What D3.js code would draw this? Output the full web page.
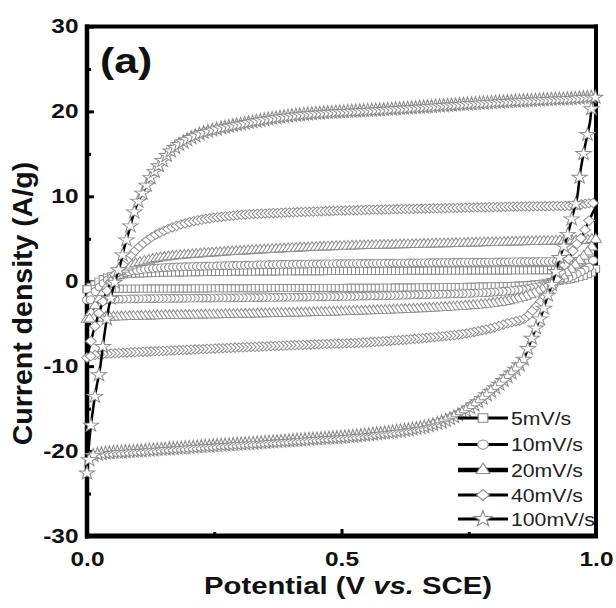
<!DOCTYPE html>
<html>
<head>
<meta charset="utf-8">
<script src="https://cdn.jsdelivr.net/npm/d3@7"></script>
<style>
  body { margin: 0; background: #fff; }
  svg { display: block; }
  text { font-family: Arial, "Liberation Sans", sans-serif; }
</style>
</head>
<body>
<svg id="chart" width="616" height="608"></svg>
<script>
// scan rates shown in the legend
const scanRates = ["5mV/s", "10mV/s", "20mV/s", "40mV/s", "100mV/s"];

// [potential (V), current density (A/g)] : forward sweep 0 -> 1 V, then reverse 1 -> 0 V
const cv5 = [
  [0, -0.9], [0.015, -0.4], [0.03, 0.2], [0.05, 0.6], [0.08, 0.85], [0.12, 0.95], [0.2, 1.05],
  [0.35, 1.15], [0.5, 1.2], [0.7, 1.25], [0.9, 1.3], [0.98, 1.35], [1.0, 1.4],
  [0.99, 1.0], [0.97, 0.55], [0.945, 0.2], [0.92, 0], [0.89, -0.3], [0.85, -0.5], [0.75, -0.65],
  [0.6, -0.75], [0.4, -0.8], [0.2, -0.85], [0.06, -0.88], [0.02, -0.9], [0, -0.95]
];
const cv10 = [
  [0, -2.2], [0.015, -1.3], [0.03, -0.4], [0.045, 0.3], [0.07, 0.9], [0.1, 1.3], [0.15, 1.6],
  [0.25, 1.8], [0.4, 2.0], [0.55, 2.1], [0.7, 2.2], [0.85, 2.3], [0.97, 2.35], [1.0, 2.4],
  [0.99, 1.8], [0.97, 1.1], [0.945, 0.4], [0.92, 0], [0.89, -0.6], [0.85, -1.0], [0.78, -1.35],
  [0.65, -1.6], [0.5, -1.8], [0.3, -1.95], [0.12, -2.05], [0.03, -2.15], [0, -2.2]
];
const cv20 = [
  [0, -4.5], [0.015, -3.0], [0.03, -1.5], [0.045, -0.2], [0.06, 0.9], [0.08, 1.7], [0.11, 2.3],
  [0.15, 2.8], [0.22, 3.2], [0.35, 3.7], [0.5, 4.1], [0.7, 4.4], [0.9, 4.7], [0.98, 4.8], [1.0, 4.9],
  [0.99, 3.9], [0.97, 2.6], [0.945, 1.1], [0.92, 0], [0.89, -1.1], [0.85, -2.0], [0.8, -2.6],
  [0.7, -3.1], [0.5, -3.6], [0.3, -3.9], [0.12, -4.1], [0.03, -4.3], [0, -4.5]
];
const cv40 = [
  [0, -9.0], [0.008, -7.0], [0.018, -4.8], [0.03, -2.6], [0.045, -0.3], [0.06, 1.2], [0.08, 2.6],
  [0.1, 3.9], [0.13, 5.3], [0.17, 6.4], [0.22, 7.2], [0.3, 7.8], [0.4, 8.1], [0.55, 8.4],
  [0.7, 8.6], [0.85, 8.8], [0.95, 8.9], [1.0, 9.1],
  [0.993, 8.0], [0.982, 6.6], [0.972, 5.2], [0.958, 4.0], [0.948, 2.8], [0.935, 1.6], [0.925, 0.5],
  [0.909, -1.1], [0.894, -2.2], [0.876, -3.4], [0.86, -4.4], [0.83, -4.9], [0.79, -5.6],
  [0.74, -6.2], [0.68, -6.6], [0.55, -7.2], [0.42, -7.5], [0.3, -7.8], [0.15, -8.2],
  [0.05, -8.5], [0.015, -8.7], [0, -9.0]
];
const cv100 = [
  [0, -22.6], [0.006, -17.9], [0.016, -13.4], [0.026, -10.1], [0.033, -6.8], [0.043, -3.0],
  [0.055, 0], [0.065, 1.9], [0.073, 3.9], [0.083, 6.0], [0.09, 7.6], [0.1, 9.3], [0.112, 10.7],
  [0.122, 11.9], [0.141, 13.6], [0.17, 15.6], [0.22, 17.3], [0.32, 18.7], [0.42, 19.6],
  [0.61, 20.3], [0.81, 21.1], [0.95, 21.5], [1.0, 21.6],
  [0.994, 21.2], [0.988, 18.7], [0.978, 15.8], [0.969, 12.8], [0.963, 9.9], [0.953, 7.5],
  [0.943, 5.2], [0.929, 2.8], [0.916, 0.1], [0.904, -1.9], [0.894, -3.8], [0.88, -5.8],
  [0.867, -7.8], [0.857, -9.3], [0.827, -11.2], [0.797, -12.8], [0.745, -15.2], [0.68, -16.9],
  [0.55, -18.1], [0.42, -18.7], [0.22, -19.5], [0.1, -20.0], [0.03, -20.3], [0.01, -20.6], [0, -21.5]
];

const seriesData = [cv5, cv10, cv20, cv40, cv100];

const yTicks = [-30, -20, -10, 0, 10, 20, 30];
const yMinorTicks = [-25, -15, -5, 5, 15, 25];
const xTicks = [0, 0.5, 1.0];
const xMinorTicks = [0.25, 0.75];

const svg = d3.select("#chart");

const x = d3.scaleLinear().domain([0, 1]).range([87, 596]);
const y = d3.scaleLinear().domain([-30, 30]).range([536, 26.5]);

// the source picture is stretched sideways, so text and symbols are too
const stretch = "scale(1.22,1)";

const symbolTypes = [d3.symbolSquare, d3.symbolCircle, d3.symbolTriangle, d3.symbolSquare, d3.symbolStar];
const symbolSizes = [50, 48, 44, 44, 56];
const symbolRotate = [0, 0, 0, 45, 0];

// frame
const frame = svg.append("g");
frame.append("line").attr("x1", 87).attr("x2", 87).attr("y1", 24.5).attr("y2", 538.5)
  .attr("stroke", "#000").attr("stroke-width", 4.5);
frame.append("line").attr("x1", 85).attr("x2", 598).attr("y1", 536).attr("y2", 536)
  .attr("stroke", "#000").attr("stroke-width", 5);
frame.append("line").attr("x1", 85).attr("x2", 598).attr("y1", 26.5).attr("y2", 26.5)
  .attr("stroke", "#000").attr("stroke-width", 4);
frame.append("line").attr("x1", 596).attr("x2", 596).attr("y1", 24.5).attr("y2", 538)
  .attr("stroke", "#000").attr("stroke-width", 4);

// axes (ticks point inward)
const yAxis = svg.append("g").attr("transform", "translate(87,0)")
  .call(d3.axisLeft(y).tickValues(yTicks).tickSize(-7).tickPadding(7).tickFormat((d) => String(d)));
const yAxisMinor = svg.append("g").attr("transform", "translate(87,0)")
  .call(d3.axisLeft(y).tickValues(yMinorTicks).tickSize(-4).tickFormat(""));
const xAxis = svg.append("g").attr("transform", "translate(0,536)")
  .call(d3.axisBottom(x).tickValues(xTicks).tickSize(-7).tickPadding(16).tickFormat(d3.format(".1f")));
const xAxisMinor = svg.append("g").attr("transform", "translate(0,536)")
  .call(d3.axisBottom(x).tickValues(xMinorTicks).tickSize(-4).tickFormat(""));

[yAxis, yAxisMinor, xAxis, xAxisMinor].forEach((g) => {
  g.select(".domain").remove();
  g.selectAll(".tick line").attr("stroke", "#000").attr("stroke-width", 3);
  g.selectAll(".tick text")
    .attr("font-size", 20)
    .attr("font-weight", "bold")
    .attr("font-family", "Arial, 'Liberation Sans', sans-serif")
    .attr("fill", "#111")
    .attr("transform", stretch);
});

// curves
const line = d3.line()
  .x((d) => x(d[0]))
  .y((d) => y(d[1]))
  .curve(d3.curveCatmullRom.alpha(0.5));

function markerPoints(pathNode, step) {
  const total = pathNode.getTotalLength();
  let last = pathNode.getPointAtLength(0);
  const pts = [last];
  for (let l = 0.5; l <= total; l += 0.5) {
    const p = pathNode.getPointAtLength(l);
    if (Math.abs(p.x - last.x) >= step) {
      pts.push(p);
      last = p;
    }
  }
  return pts;
}

const plot = svg.append("g");

seriesData.forEach((data, i) => {
  const path = plot.append("path")
    .datum(data)
    .attr("d", line)
    .attr("fill", "none")
    .attr("stroke", "#000")
    .attr("stroke-width", 2.5);

  const symbolPath = d3.symbol().type(symbolTypes[i]).size(symbolSizes[i])();
  plot.append("g")
    .selectAll("path")
    .data(markerPoints(path.node(), 3.9))
    .join("path")
    .attr("d", symbolPath)
    .attr("transform", (p) => `translate(${p.x},${p.y}) scale(1.15,1) rotate(${symbolRotate[i]})`)
    .attr("fill", "#fff")
    .attr("stroke", "#8c8c8c")
    .attr("stroke-width", 0.9);
});

// legend
const legend = svg.append("g");
const legendY = [418, 444.5, 470, 495, 519];
scanRates.forEach((name, i) => {
  const g = legend.append("g").attr("transform", `translate(0,${legendY[i]})`);
  g.append("line").attr("x1", 458).attr("x2", 508).attr("y1", 0).attr("y2", 0)
    .attr("stroke", "#000").attr("stroke-width", i === 2 ? 4.5 : 3.2);
  g.append("path")
    .attr("d", d3.symbol().type(symbolTypes[i]).size(symbolSizes[i] * 1.4)())
    .attr("transform", `translate(483,0) scale(1.15,1) rotate(${symbolRotate[i]})`)
    .attr("fill", "#fff")
    .attr("stroke", "#8a8a8a")
    .attr("stroke-width", 1);
  g.append("text")
    .attr("transform", `translate(511,6.5) scale(1.18,1)`)
    .attr("font-size", 18)
    .attr("fill", "#222")
    .text(name);
});

// panel label
svg.append("text")
  .attr("transform", `translate(100,73) ${stretch}`)
  .attr("font-size", 35)
  .attr("font-weight", "bold")
  .attr("fill", "#111")
  .text("(a)");

// axis titles
svg.append("text")
  .attr("transform", "translate(32,303.5) rotate(-90)")
  .attr("text-anchor", "middle")
  .attr("font-size", 28.5)
  .attr("font-weight", "bold")
  .attr("fill", "#111")
  .text("Current density (A/g)");

const xTitle = svg.append("text")
  .attr("transform", `translate(348,594) ${stretch}`)
  .attr("text-anchor", "middle")
  .attr("font-size", 24)
  .attr("font-weight", "bold")
  .attr("fill", "#111");
xTitle.append("tspan").text("Potential (V ");
xTitle.append("tspan").attr("font-style", "italic").text("vs.");
xTitle.append("tspan").text(" SCE)");
</script>
</body>
</html>
